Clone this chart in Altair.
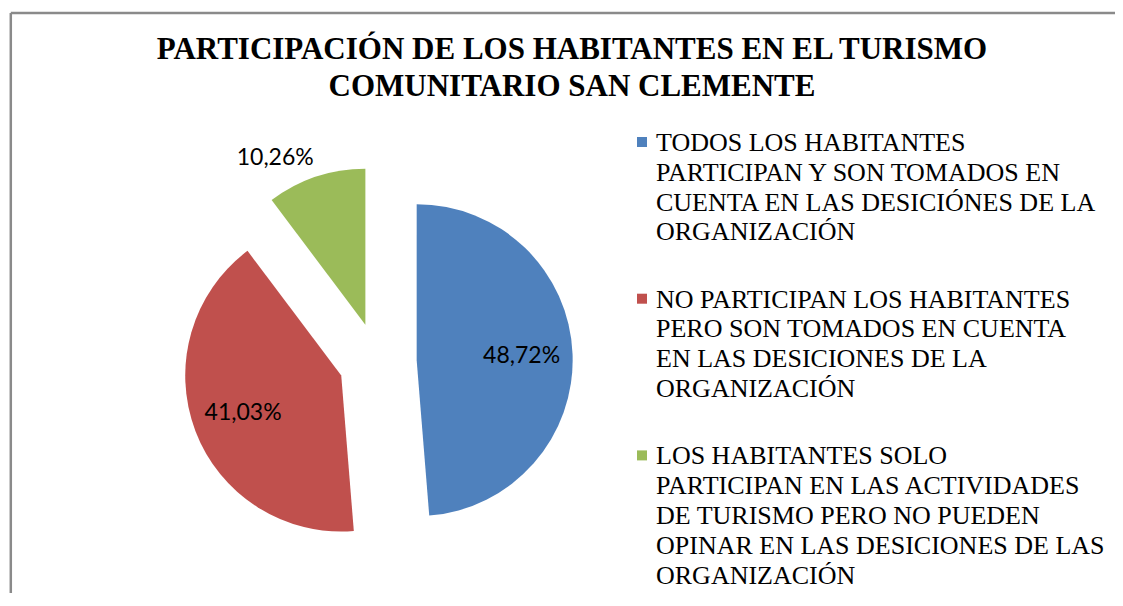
import altair as alt
import pandas as pd

# ---------------- data ----------------
title_lines = ["PARTICIPACIÓN DE LOS HABITANTES EN EL TURISMO", "COMUNITARIO SAN CLEMENTE"]

legend_lines = [
    ["TODOS LOS HABITANTES", "PARTICIPAN Y SON TOMADOS EN",
     "CUENTA EN LAS DESICIÓNES DE LA", "ORGANIZACIÓN"],
    ["NO PARTICIPAN LOS HABITANTES", "PERO SON TOMADOS EN CUENTA",
     "EN LAS DESICIONES DE LA", "ORGANIZACIÓN"],
    ["LOS HABITANTES SOLO", "PARTICIPAN EN LAS ACTIVIDADES",
     "DE TURISMO PERO NO PUEDEN", "OPINAR EN LAS DESICIONES DE LAS",
     "ORGANIZACIÓN"],
]
categories = [" ".join(l) for l in legend_lines]
values = [48.72, 41.03, 10.26]
colors = ["#4F81BD", "#C0504D", "#9BBB59"]

pie_df = pd.DataFrame({
    "category": categories,
    "value": values,
    "order": list(range(len(values))),
    "wrapped": ["|".join(l) for l in legend_lines],
})
one = pd.DataFrame({"k": [0]})

# ---------------- layout constants ----------------
W, H = 1107, 585
CX, CY = 369.7, 353.7      # pie centre
R = 156                    # pie radius
EXPLODE = 39               # explosion distance
R_IN = 105                 # inside label radius
R_OUT = 163                # outside label anchor radius
LEG_X_SQ, LEG_X_TXT = 634, 648
LEG_TOP, LEG_LH, LEG_GAP = 143, 29.8, 37.5
SERIF = "'Liberation Serif', 'Times New Roman', Times, serif"

color_scale = alt.Scale(domain=categories, range=colors)

# ---------------- frame ----------------
frame_top = alt.Chart(one).mark_rule(color="#8a8a8a", strokeWidth=2.5).encode(
    x=alt.value(2.8), x2=alt.value(W + 10), y=alt.value(5))
frame_left = alt.Chart(one).mark_rule(color="#8a8a8a", strokeWidth=2.5).encode(
    x=alt.value(2.8), y=alt.value(5), y2=alt.value(H + 10))

# ---------------- title ----------------
title = alt.Chart(one).mark_text(
    text=title_lines, font=SERIF, fontSize=31, fontWeight="bold",
    align="center", baseline="alphabetic", lineHeight=36.7, color="#000000"
).encode(x=alt.value(564), y=alt.value(51.3))

# ---------------- pie ----------------
base = alt.Chart(pie_df).transform_joinaggregate(
    total="sum(value)"
).transform_window(
    cum="sum(value)", sort=[alt.SortField("order")], frame=[None, 0]
).transform_calculate(
    t0="2*PI*(datum.cum - datum.value)/datum.total",
    t1="2*PI*datum.cum/datum.total",
    mid="(datum.t0 + datum.t1)/2",
    cx=f"{CX} + {EXPLODE}*sin(datum.mid)",
    cy=f"{CY} - {EXPLODE}*cos(datum.mid)",
    label="replace(format(datum.value, '.2f'), '.', ',') + '%'",
    lx_in=f"datum.cx + {R_IN}*sin(datum.mid)",
    ly_in=f"datum.cy - {R_IN}*cos(datum.mid)",
    lx_out=f"datum.cx + {R_OUT}*sin(datum.mid)",
    ly_out=f"datum.cy - {R_OUT}*cos(datum.mid)",
)

pie = base.mark_arc(radius=R, stroke=None).encode(
    theta=alt.Theta("t0:Q", scale=None, stack=None),
    theta2="t1:Q",
    x=alt.X("cx:Q", scale=None, axis=None),
    y=alt.Y("cy:Q", scale=None, axis=None),
    color=alt.Color("category:N", scale=color_scale, legend=None),
)

lab_in = base.transform_filter("datum.value >= 15").mark_text(
    font="Lato", fontSize=23, align="center", baseline="middle", color="#000000"
).encode(
    x=alt.X("lx_in:Q", scale=None, axis=None),
    y=alt.Y("ly_in:Q", scale=None, axis=None),
    text="label:N",
)
lab_out = base.transform_filter("datum.value < 15").mark_text(
    font="Lato", fontSize=23, align="right", baseline="bottom", color="#000000"
).encode(
    x=alt.X("lx_out:Q", scale=None, axis=None),
    y=alt.Y("ly_out:Q", scale=None, axis=None),
    text="label:N",
)

# ---------------- legend ----------------
leg = alt.Chart(pie_df).transform_calculate(
    lines="split(datum.wrapped, '|')",
    n="length(datum.lines)",
).transform_window(
    cumn="sum(n)", idx="row_number()", sort=[alt.SortField("order")], frame=[None, 0]
).transform_calculate(
    by=f"{LEG_TOP} + (datum.cumn - datum.n)*{LEG_LH} + (datum.idx - 1)*{LEG_GAP}",
    sy="datum.by - 9",
)
leg_sq = leg.mark_square(size=100, opacity=1).encode(
    x=alt.value(LEG_X_SQ),
    y=alt.Y("sy:Q", scale=None, axis=None),
    color=alt.Color("category:N", scale=color_scale, legend=None),
)
leg_txt = leg.mark_text(
    font=SERIF, fontSize=26, align="left", baseline="alphabetic",
    lineHeight=LEG_LH, color="#000000"
).encode(
    x=alt.value(LEG_X_TXT),
    y=alt.Y("by:Q", scale=None, axis=None),
    text="lines:N",
)

chart = alt.layer(
    frame_top, frame_left, title, pie, lab_in, lab_out, leg_sq, leg_txt
).properties(
    width=W, height=H, padding=0,
    autosize=alt.AutoSizeParams(type="none"),
).configure_view(stroke=None)

chart.save("out.html", embed_options={"renderer": "svg", "actions": False})
